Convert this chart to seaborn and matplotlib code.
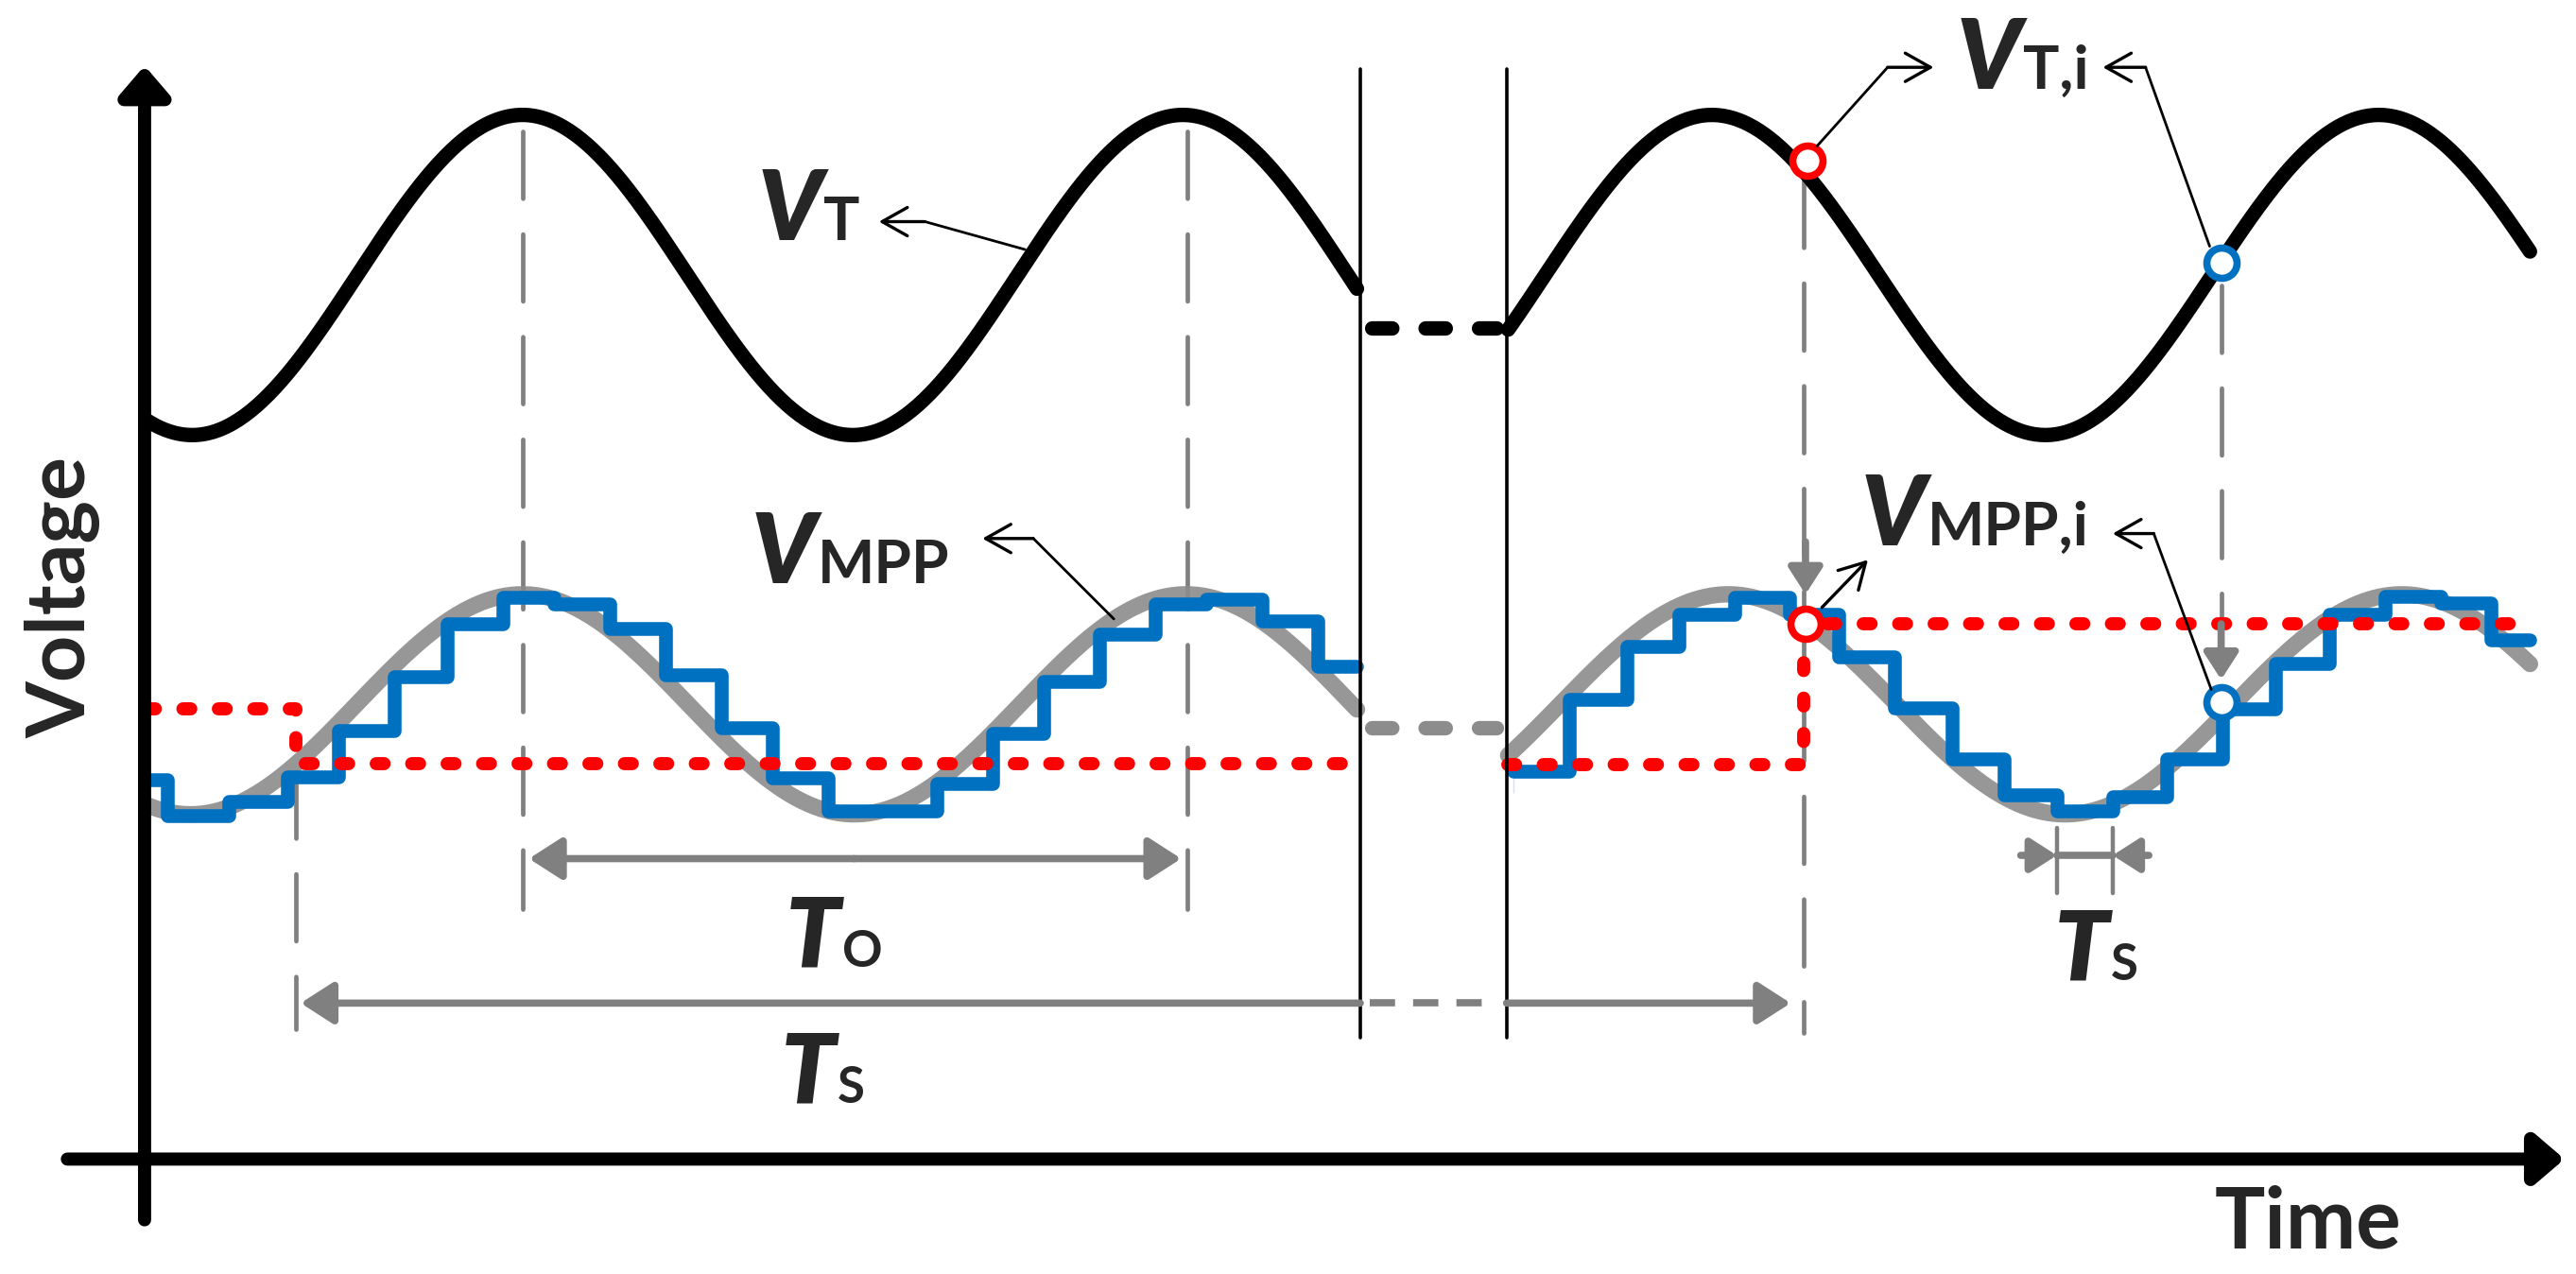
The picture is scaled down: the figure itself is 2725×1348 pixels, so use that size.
import numpy as np
import matplotlib
matplotlib.use("Agg")
import matplotlib.pyplot as plt
import seaborn as sns

sns.set_style("white")
FONT = ["Lato", "DejaVu Sans"]
plt.rcParams["font.family"] = FONT

# ---------------- data (schematic units: 1568 x 776 canvas) ----------------
# V_T sine parameters (left and right segments)
vt_left_range = [90, 826]
vt_right_range = [918, 1540]
vt_center, vt_amp = 167.5, 97.5
vt_left_peak, vt_left_period = 318, 402
vt_right_peak, vt_right_period = 1042, 406

# V_MPP sine parameters
vm_center, vm_amp = 429, 67
vm_left_peak, vm_left_period = 318, 404
vm_right_peak, vm_right_period = 1052, 410

# Blue staircase (sampled V_MPP)
left_step_x = [90, 102, 139, 175, 206, 240, 272, 306, 337, 371, 405, 439, 470, 504,
               570, 604, 635, 669, 703, 734, 768, 802, 826]
left_step_y = [475, 497, 488, 473, 445, 412, 380, 364, 368, 383, 411, 443, 474, 494,
               477, 447, 415, 386, 368, 365, 378, 406, 406]
right_step_x = [921, 921, 955, 990, 1022, 1056, 1089, 1119, 1153, 1188, 1220, 1252,
                1286, 1319, 1353, 1385, 1418, 1452, 1486, 1516, 1540]
right_step_y = [483, 456, 426, 394, 374, 364, 374, 400, 431, 462, 484, 494, 485, 462,
                432, 404, 374, 363, 367, 390, 390]

# Red dotted (held reference) levels
red_left_x = [90, 180, 826]
red_left_y = [432, 465, 465]
red_right_x = [918, 1098, 1540]
red_right_y = [466, 380, 380]

# Sample points
red_pts_x = [1100, 1099]
red_pts_y = [98, 380]
blue_pts_x = [1352, 1352]
blue_pts_y = [160, 428]

BLUE = "#0070C0"
RED = "#FF0000"
GRAY = "#808080"

# ---------------- figure ----------------
fig = plt.figure(figsize=(27.25, 13.48), dpi=100)
ax = fig.add_axes([0, 0, 1, 1])
ax.set_xlim(0, 1568)
ax.set_ylim(776, 0)
ax.axis("off")


def sine(xr, c, a, peak, period):
    x = np.linspace(xr[0], xr[1], 400)
    return x, c - a * np.cos(2 * np.pi * (x - peak) / period)


gdash = dict(color=GRAY, lw=3.4, ls=(0, (15, 8)), dash_capstyle="round")
for xv, y0, y1 in [(318, 80, 554), (723, 80, 554), (180, 470, 627), (1098, 110, 629)]:
    ax.plot([xv, xv], [y0, y1], **gdash)
ax.plot([1352, 1352], [174, 400], **gdash)

# V_MPP gray sines
for xr, pk, per in [((90, 826), vm_left_peak, vm_left_period), ((918, 1540), vm_right_peak, vm_right_period)]:
    x, y = sine(xr, vm_center, vm_amp, pk, per)
    sns.lineplot(x=x, y=y, ax=ax, color="#8c8c8c", lw=12.5, alpha=0.9, sort=False)
ax.plot([835, 911], [443, 443], color="#8c8c8c", lw=11, ls=(0, (1.4, 2.3)), dash_capstyle="round")

# V_T black sines
for xr, pk, per in [(vt_left_range, vt_left_peak, vt_left_period), (vt_right_range, vt_right_peak, vt_right_period)]:
    x, y = sine(xr, vt_center, vt_amp, pk, per)
    sns.lineplot(x=x, y=y, ax=ax, color="black", lw=11, sort=False)
ax.plot([835, 911], [200, 200], color="black", lw=11, ls=(0, (1.4, 2.3)), dash_capstyle="round")

# blue staircases
sns.lineplot(x=left_step_x, y=left_step_y, ax=ax, color=BLUE, lw=10.5, drawstyle="steps-post", sort=False)
sns.lineplot(x=right_step_x, y=right_step_y, ax=ax, color=BLUE, lw=10.5, drawstyle="steps-post", sort=False)

# red dotted
rdot = dict(color=RED, lw=10, ls=(0, (0.6, 2.1)), dash_capstyle="round", drawstyle="steps-post")
ax.plot(red_left_x, red_left_y, **rdot)
ax.plot(red_right_x, red_right_y, **rdot)

# vertical black separators
for xv in [828, 917]:
    ax.plot([xv, xv], [42, 632], color="black", lw=2.6)

# axes with arrows
ax.annotate("", xy=(88, 40), xytext=(88, 743),
            arrowprops=dict(arrowstyle="-|>,head_length=0.7,head_width=0.6", lw=10, color="black",
                            mutation_scale=26, shrinkA=0, shrinkB=0))
ax.annotate("", xy=(1561, 706), xytext=(41, 706),
            arrowprops=dict(arrowstyle="-|>,head_length=0.7,head_width=0.6", lw=10, color="black",
                            mutation_scale=26, shrinkA=0, shrinkB=0))

# gray arrows
garr = dict(arrowstyle="-|>,head_length=0.7,head_width=0.45", color=GRAY, lw=5.5,
            mutation_scale=30, shrinkA=0, shrinkB=0)
ax.annotate("", xy=(322, 523), xytext=(520, 523), arrowprops=garr)
ax.annotate("", xy=(719, 523), xytext=(520, 523), arrowprops=garr)
ax.annotate("", xy=(183, 611), xytext=(828, 611), arrowprops=garr)
ax.annotate("", xy=(1090, 611), xytext=(917, 611), arrowprops=garr)
ax.plot([834, 912], [611, 611], color=GRAY, lw=5.5, ls=(0, (3.5, 2.5)))
# small Ts
ax.plot([1252, 1252], [504, 544], color=GRAY, lw=3.2)
ax.plot([1286, 1286], [504, 544], color=GRAY, lw=3.2)
ax.plot([1252, 1286], [521, 521], color=GRAY, lw=5.5)
garr2 = dict(garr, mutation_scale=24)
ax.annotate("", xy=(1252, 521), xytext=(1230, 521), arrowprops=garr2)
ax.annotate("", xy=(1286, 521), xytext=(1308, 521), arrowprops=garr2)
ax.annotate("", xy=(1099, 362), xytext=(1099, 330), arrowprops=garr2)
ax.annotate("", xy=(1352, 414), xytext=(1352, 380), arrowprops=garr2)

# sample circles
ax.plot(red_pts_x, red_pts_y, ls="none", marker="o", ms=23, mew=5.5, mec=RED, mfc="white")
ax.plot(blue_pts_x, blue_pts_y, ls="none", marker="o", ms=23, mew=5.5, mec=BLUE, mfc="white")

# black leaders
lead = dict(color="black", lw=2)
head = dict(arrowstyle="->,head_length=0.8,head_width=0.45", color="black", lw=2.4,
            mutation_scale=24, shrinkA=0, shrinkB=0)


def leader(pts, tip):
    xs, ys = zip(*pts)
    ax.plot(xs, ys, **lead)
    ax.annotate("", xy=tip, xytext=pts[-1], arrowprops=head)


leader([(624, 152), (563, 135)], (535, 135))
leader([(678, 377), (629, 328)], (598, 328))
leader([(1106, 89), (1149, 41)], (1177, 41))
leader([(1345, 150), (1306, 41)], (1280, 41))
leader([(1346, 420), (1311, 325)], (1286, 325))
ax.annotate("", xy=(1137, 341), xytext=(1109, 370), arrowprops=head)

# labels
renderer = fig.canvas.get_renderer()


def label(x, y, main, sub, fs_main=74, fs_sub=46):
    t = ax.text(x, y, main, fontsize=fs_main, fontweight="heavy", style="italic",
                ha="left", va="baseline", family=FONT)
    bb = t.get_window_extent(renderer)
    x1 = ax.transData.inverted().transform((bb.x1, bb.y0))[0]
    ax.text(x1 + 1, y, sub, fontsize=fs_sub, fontweight="bold", ha="left", va="baseline", family=FONT)


label(461, 146, "V", "T")
label(457, 355, "V", "MPP")
label(1191, 54, "V", "T,i")
label(1133, 332, "V", "MPP,i")
label(478, 589, "T", "O", fs_sub=38)
label(475, 672, "T", "S", fs_sub=38)
label(1250, 597, "T", "S", fs_sub=38)

ax.text(38, 364, "Voltage", rotation=90, fontsize=62, fontweight="bold", ha="center", va="center", family=FONT)
ax.text(1348, 760, "Time", fontsize=64, fontweight="bold", ha="left", va="baseline", family=FONT)

fig.savefig("out.png", dpi=100, facecolor="white")
